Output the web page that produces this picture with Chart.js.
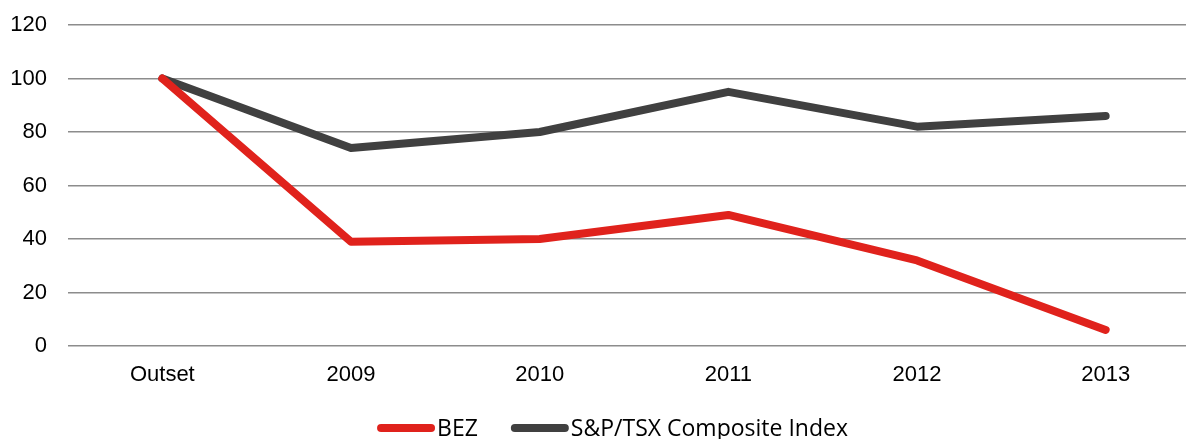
<!DOCTYPE html>
<html>
<head>
<meta charset="utf-8">
<script src="https://cdn.jsdelivr.net/npm/chart.js@4/dist/chart.umd.min.js"></script>
<style>
  html, body { margin:0; padding:0; background:#fff; overflow:hidden; }
  #wrap { width:1225px; height:439px; }
</style>
</head>
<body>
<div id="wrap"><canvas id="chart"></canvas></div>
<script>
const categories = ['Outset','2009','2010','2011','2012','2013'];
const bezValues  = [100, 39, 40, 49, 32, 6];
const tsxValues  = [100, 74, 80, 95, 82, 86];
const seriesNames = ['BEZ','S&P/TSX Composite Index'];

const RED  = '#e0221c';
const DARK = '#404040';
const GRID = '#8c8c8c';

const line = (label, data, color) => ({
  label, data,
  borderColor:color, backgroundColor:color,
  borderWidth:8, borderCapStyle:'round', borderJoinStyle:'round',
  pointRadius:0, pointHoverRadius:0, tension:0, fill:false
});

/* bottom legend: thick line sample + label, centred under the chart */
const lineLegend = {
  id:'lineLegend',
  afterDraw(chart) {
    const ctx = chart.ctx;
    const y = 428, seg = 50, cap = 4, gapTxt = 2, gapItem = 33;
    ctx.save();
    ctx.font = '23px "Open Sans"';
    ctx.textBaseline = 'middle';
    const items = chart.data.datasets.map(ds => ({ ds, tw: ctx.measureText(ds.label).width }));
    const total = items.reduce((s, it) => s + seg + cap * 2 + gapTxt + it.tw, 0) + gapItem * (items.length - 1);
    let x = chart.width / 2 - total / 2;
    items.forEach(it => {
      ctx.beginPath();
      ctx.moveTo(x + cap, y); ctx.lineTo(x + cap + seg, y);
      ctx.strokeStyle = it.ds.borderColor; ctx.lineWidth = 8; ctx.lineCap = 'round';
      ctx.stroke();
      x += seg + cap * 2 + gapTxt;
      ctx.fillStyle = '#000';
      ctx.fillText(it.ds.label, x, y + 1);
      x += it.tw + gapItem;
    });
    ctx.restore();
  }
};

new Chart(document.getElementById('chart'), {
  type:'line',
  data:{ labels:categories, datasets:[
    line(seriesNames[0], bezValues, RED),
    line(seriesNames[1], tsxValues, DARK)
  ]},
  plugins:[lineLegend],
  options:{
    responsive:true, maintainAspectRatio:false, animation:false,
    layout:{ padding:{ top:25, right:25, left:0, bottom:53 } },
    plugins:{ tooltip:{ enabled:false }, legend:{ display:false } },
    scales:{
      x:{
        offset:true,
        grid:{ display:false },
        border:{ display:false },
        ticks:{ color:'#000', font:{ family:'Liberation Sans', size:22 }, padding:8 },
        afterFit: s => { s.height = 40; }
      },
      y:{
        min:0, max:120,
        grid:{ color:GRID, lineWidth:1.6, drawTicks:false },
        border:{ display:false },
        ticks:{ stepSize:20, color:'#000', font:{ family:'Liberation Sans', size:22 }, padding:21 },
        afterFit: s => { s.width = 68; s.paddingTop = 0; s.paddingBottom = 0; }
      }
    }
  }
});
</script>
</body>
</html>
